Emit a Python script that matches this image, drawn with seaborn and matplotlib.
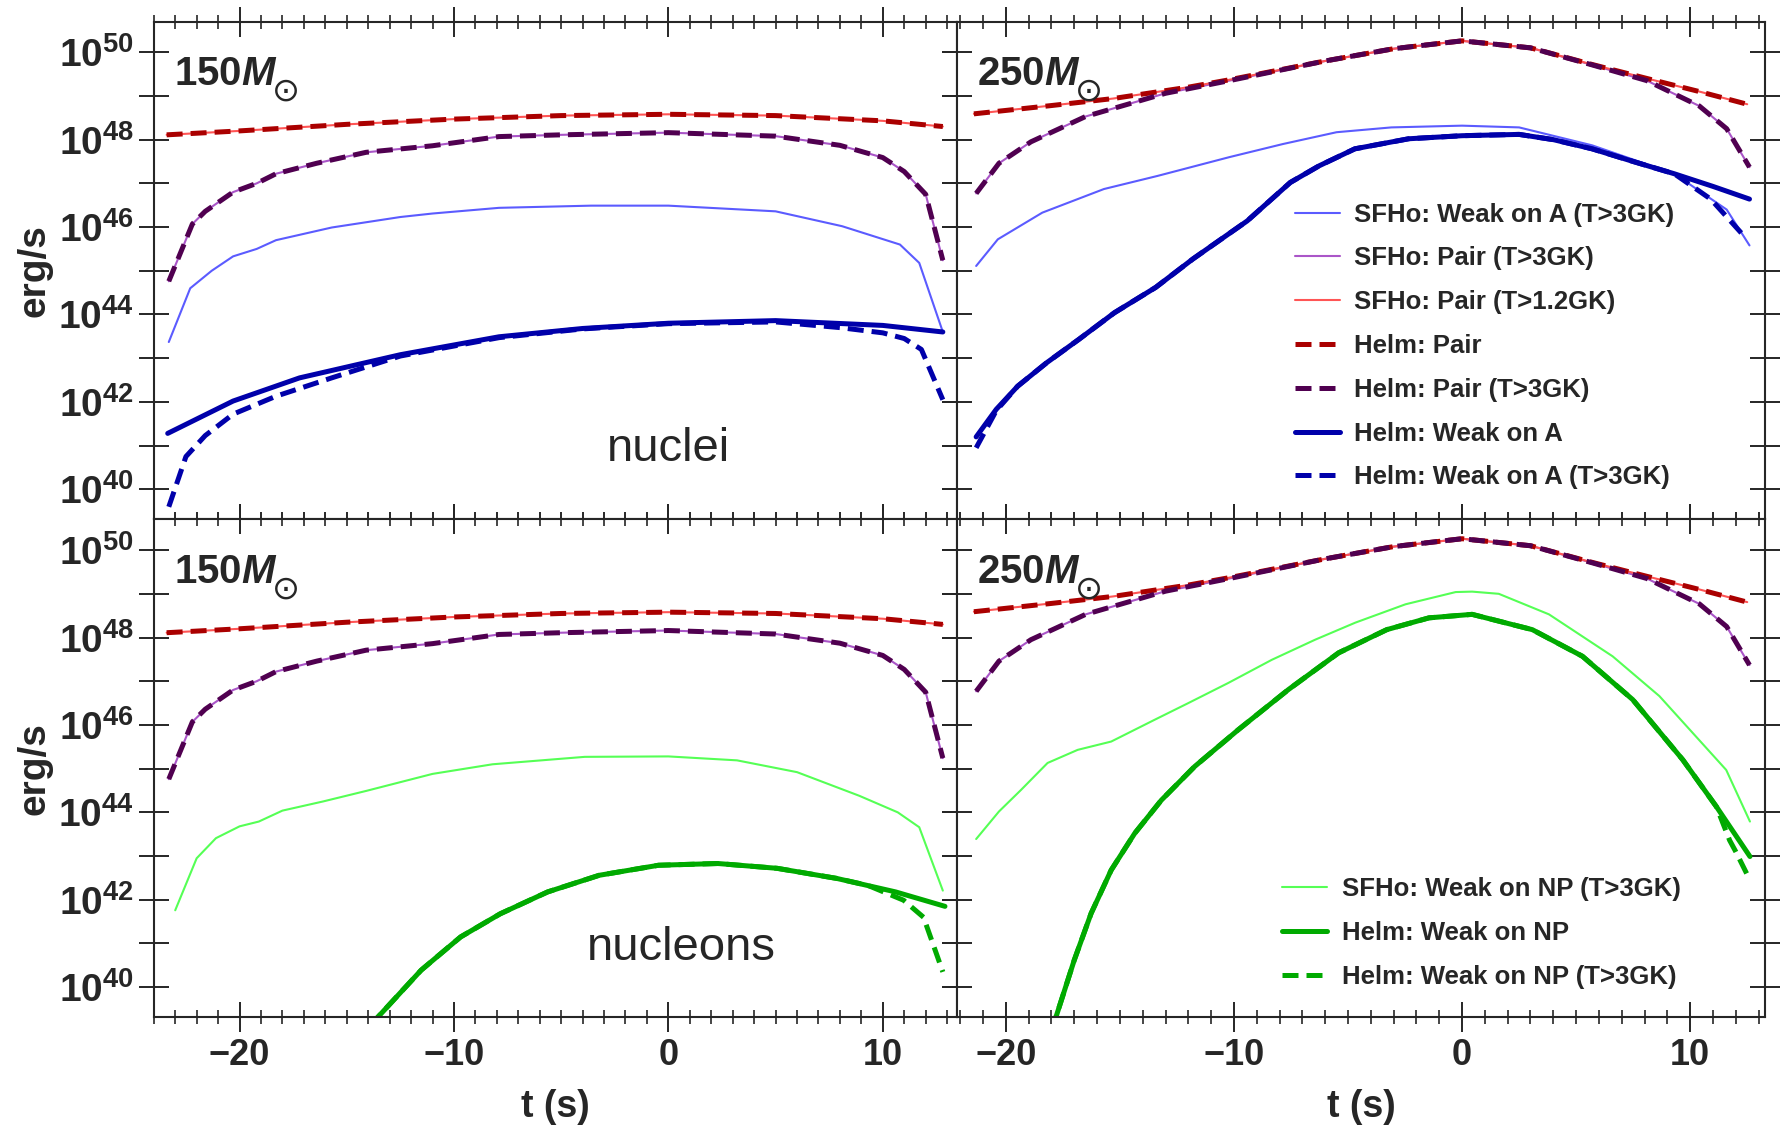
import numpy as np
import seaborn as sns
import matplotlib.pyplot as plt
from matplotlib.ticker import FixedLocator, FuncFormatter, MultipleLocator, NullLocator

# ---- data (log10 of luminosity in erg/s vs t in s) ----
# 150 Msun, pair emission (same in both rows)
t_pair150 = [-23.4, -20, -15, -10, -5, 0, 5, 10, 12.8]
pair150 = [48.11, 48.2, 48.35, 48.47, 48.55, 48.58, 48.55, 48.43, 48.3]
t_pair3_150 = [-23.3, -22.2, -21.6, -20.3, -19.2, -18.3, -16.4, -14.1, -11, -7.9, -5, 0, 5, 8, 10, 11, 12, 12.8]
pair3_150 = [44.76, 46.07, 46.36, 46.8, 47.0, 47.22, 47.46, 47.71, 47.86, 48.07, 48.11, 48.16, 48.08, 47.87, 47.59, 47.27, 46.75, 45.24]

# 150 Msun, nuclei
t_sfhoA150 = [-23.3, -22.3, -21.3, -20.3, -19.2, -18.3, -15.7, -12.5, -11, -7.9, -3.6, 0, 5, 8.1, 10.8, 11.7, 12.8]
sfhoA150 = [43.37, 44.6, 45.0, 45.33, 45.5, 45.7, 45.99, 46.23, 46.31, 46.44, 46.49, 46.49, 46.36, 46.02, 45.6, 45.18, 43.6]
t_helmA150 = [-23.35, -20.3, -17.2, -12.5, -7.9, -4, 0, 5, 10, 12.8]
helmA150 = [41.28, 42.02, 42.55, 43.08, 43.49, 43.68, 43.8, 43.86, 43.75, 43.6]
t_helmA3_150 = [-23.3, -22.5, -21.6, -20.3, -18.3, -15.7, -12.5, -7.9, -4, 0, 5, 8, 10, 11, 11.8, 12.8]
helmA3_150 = [39.6, 40.75, 41.23, 41.72, 42.13, 42.55, 43.05, 43.47, 43.67, 43.79, 43.83, 43.7, 43.58, 43.45, 43.2, 42.05]

# 250 Msun, pair emission
t_pair250 = [-21.4, -18, -15.3, -12, -10.2, -6, -3, 0, 3, 5.7, 8.1, 10.4, 12.5]
pair250 = [48.59, 48.78, 48.94, 49.2, 49.37, 49.8, 50.08, 50.26, 50.1, 49.72, 49.4, 49.1, 48.81]
t_pair3_250 = [-21.3, -20.3, -18.9, -16.5, -13, -10.2, -6, -3, 0, 3, 5.7, 8.1, 10.4, 11.6, 12.6]
pair3_250 = [46.77, 47.46, 47.95, 48.53, 49.06, 49.35, 49.8, 50.08, 50.26, 50.1, 49.71, 49.35, 48.77, 48.25, 47.37]

# 250 Msun, nuclei
t_sfhoA250 = [-21.3, -20.35, -18.4, -15.7, -13.35, -10.2, -7.85, -5.5, -3.1, 0, 2.5, 5.7, 9.3, 11.6, 12.6]
sfhoA250 = [45.11, 45.72, 46.33, 46.87, 47.17, 47.6, 47.9, 48.17, 48.28, 48.32, 48.28, 47.87, 47.22, 46.4, 45.58]
t_helmA250 = [-21.3, -20.42, -19.48, -18.2, -16.8, -15.24, -13.43, -11.8, -9.42, -7.53, -6.27, -4.7,
              -2.34, 0, 2.5, 4, 5.7, 7.5, 9.3, 11, 12.6]
helmA250 = [41.2, 41.83, 42.36, 42.9, 43.43, 44.04, 44.62, 45.27, 46.14, 47.02, 47.4, 47.79,
            48.02, 48.09, 48.12, 48.0, 47.79, 47.5, 47.22, 46.93, 46.64]
t_helmA3_250 = [-21.3, -20.42, -19.48, -18.2, -16.8, -15.24, -13.43, -11.8, -9.42, -7.53, -6.27, -4.7,
                -2.34, 0, 2.5, 4, 5.7, 7.5, 9.3, 10.9, 12.3]
helmA3_250 = [40.95, 41.8, 42.36, 42.9, 43.43, 44.04, 44.62, 45.27, 46.14, 47.02, 47.4, 47.79,
              48.02, 48.09, 48.12, 48.0, 47.79, 47.5, 47.22, 46.64, 45.83]

# 150 Msun, nucleons
t_sfhoN150 = [-23, -22, -21.1, -20, -19.1, -18, -16.1, -14.1, -11, -8.2, -3.9, 0, 3.2, 6, 8.9, 10.7, 11.7, 12.8]
sfhoN150 = [41.76, 42.95, 43.41, 43.68, 43.79, 44.04, 44.25, 44.49, 44.88, 45.1, 45.27, 45.28, 45.19, 44.92, 44.38, 44.0, 43.66, 42.21]
t_helmN150 = [-13.9, -13.56, -11.53, -9.69, -7.84, -5.63, -3.23, -0.46, 2.31, 5.07, 7.84, 10.6, 12.9]
helmN150 = [39.1, 39.31, 40.39, 41.15, 41.68, 42.18, 42.56, 42.79, 42.83, 42.72, 42.49, 42.18, 41.85]
t_helmN3_150 = [-13.9, -13.56, -11.53, -9.69, -7.84, -5.63, -3.23, -0.46, 2.31, 5.07, 7.84, 9.3, 10.97, 11.9, 12.8]
helmN3_150 = [39.1, 39.31, 40.39, 41.15, 41.68, 42.18, 42.56, 42.79, 42.83, 42.72, 42.49, 42.33, 41.99, 41.6, 40.35]

# 250 Msun, nucleons
t_sfhoN250 = [-21.3, -20.3, -19.34, -18.17, -16.85, -15.38, -13.47, -12.0, -10.25, -8.34, -6.44, -4.68,
              -2.48, -0.28, 0.44, 1.61, 3.81, 6.6, 8.65, 11.58, 12.62]
sfhoN250 = [43.39, 44.02, 44.51, 45.13, 45.43, 45.62, 46.12, 46.5, 46.96, 47.49, 47.95, 48.34,
            48.76, 49.04, 49.05, 49.0, 48.53, 47.57, 46.66, 44.97, 43.79]
t_helmN250 = [-18.0, -17.8, -17.0, -16.26, -15.38, -14.35, -13.18, -11.72, -9.81, -7.61, -5.41, -3.3,
              -1.45, 0.44, 3.08, 5.28, 7.48, 9.68, 11.15, 12.62]
helmN250 = [39.0, 39.32, 40.62, 41.69, 42.68, 43.52, 44.28, 45.05, 45.89, 46.81, 47.65, 48.18,
            48.45, 48.53, 48.18, 47.57, 46.58, 45.2, 44.13, 42.99]
t_helmN3_250 = [-18.0, -17.8, -17.0, -16.26, -15.38, -14.35, -13.18, -11.72, -9.81, -7.61, -5.41, -3.3,
                -1.45, 0.44, 3.08, 5.28, 7.48, 9.68, 11.15, 11.73, 12.0, 12.62]
helmN3_250 = [39.0, 39.32, 40.62, 41.69, 42.68, 43.52, 44.28, 45.05, 45.89, 46.81, 47.65, 48.18,
              48.45, 48.53, 48.18, 47.57, 46.58, 45.2, 44.13, 43.36, 43.1, 42.45]

# ---- styling ----
sns.set_style("ticks")
plt.rcParams['font.family'] = ['Liberation Sans', 'DejaVu Sans']
plt.rcParams['font.weight'] = 'bold'
plt.rcParams['mathtext.fontset'] = 'custom'
plt.rcParams['mathtext.rm'] = 'Liberation Sans:bold'
plt.rcParams['mathtext.it'] = 'Liberation Sans:bold:italic'
plt.rcParams['mathtext.bf'] = 'Liberation Sans:bold'
plt.rcParams['axes.linewidth'] = 1.5

c_sfhoA = '#5b5bff'
c_sfhoP3 = '#aa55c8'
c_sfhoP = '#ff5555'
c_helmP = '#aa0000'
c_helmP3 = '#500050'
c_helmA = '#0000aa'
c_sfhoN = '#55ff55'
c_helmN = '#00aa00'
dash = (0, (3.2, 1.6))
thin, thick = 1.5, 3.6

fig, axes = plt.subplots(2, 2, figsize=(17.86, 11.38), dpi=100,
                         gridspec_kw={'width_ratios': [705, 710]})
fig.subplots_adjust(left=0.0861, right=0.9885, top=0.981, bottom=0.106, wspace=0, hspace=0)


def line(ax, t, v, color, lw, ls='-', label=None):
    sns.lineplot(x=t, y=10 ** np.array(v), ax=ax, color=color, lw=lw, linestyle=ls,
                 label=label, estimator=None, sort=False, legend=False)


leg_kw = dict(frameon=False, handlelength=1.75, handletextpad=0.58, labelspacing=0.77,
              borderaxespad=0, prop={'weight': 'bold', 'size': 18.5})

# top-left: 150, nuclei
ax = axes[0, 0]
line(ax, t_sfhoA150, sfhoA150, c_sfhoA, thin)
line(ax, t_pair3_150, pair3_150, c_sfhoP3, thin)
line(ax, t_pair150, pair150, c_sfhoP, thin)
line(ax, t_pair150, pair150, c_helmP, thick, dash)
line(ax, t_pair3_150, pair3_150, c_helmP3, thick, dash)
line(ax, t_helmA3_150, helmA3_150, c_helmA, thick, dash)
line(ax, t_helmA150, helmA150, c_helmA, thick)

# top-right: 250, nuclei
ax = axes[0, 1]
line(ax, t_sfhoA250, sfhoA250, c_sfhoA, thin, label='SFHo: Weak on A (T>3GK)')
line(ax, t_pair3_250, pair3_250, c_sfhoP3, thin, label='SFHo: Pair (T>3GK)')
line(ax, t_pair250, pair250, c_sfhoP, thin, label='SFHo: Pair (T>1.2GK)')
line(ax, t_pair250, pair250, c_helmP, thick, dash, label='Helm: Pair')
line(ax, t_pair3_250, pair3_250, c_helmP3, thick, dash, label='Helm: Pair (T>3GK)')
line(ax, t_helmA250, helmA250, c_helmA, thick, label='Helm: Weak on A')
line(ax, t_helmA3_250, helmA3_250, c_helmA, thick, dash, label='Helm: Weak on A (T>3GK)')
ax.legend(loc='upper left', bbox_to_anchor=(0.405, 0.657), **leg_kw)

# bottom-left: 150, nucleons
ax = axes[1, 0]
line(ax, t_sfhoN150, sfhoN150, c_sfhoN, thin)
line(ax, t_pair3_150, pair3_150, c_sfhoP3, thin)
line(ax, t_pair150, pair150, c_sfhoP, thin)
line(ax, t_pair150, pair150, c_helmP, thick, dash)
line(ax, t_pair3_150, pair3_150, c_helmP3, thick, dash)
line(ax, t_helmN3_150, helmN3_150, c_helmN, thick, dash)
line(ax, t_helmN150, helmN150, c_helmN, thick)

# bottom-right: 250, nucleons
ax = axes[1, 1]
line(ax, t_pair3_250, pair3_250, c_sfhoP3, thin)
line(ax, t_pair250, pair250, c_sfhoP, thin)
line(ax, t_pair250, pair250, c_helmP, thick, dash)
line(ax, t_pair3_250, pair3_250, c_helmP3, thick, dash)
line(ax, t_sfhoN250, sfhoN250, c_sfhoN, thin, label='SFHo: Weak on NP (T>3GK)')
line(ax, t_helmN250, helmN250, c_helmN, thick, label='Helm: Weak on NP')
line(ax, t_helmN3_250, helmN3_250, c_helmN, thick, dash, label='Helm: Weak on NP (T>3GK)')
h, l = ax.get_legend_handles_labels()
ax.legend(h[-3:], l[-3:], loc='upper left', bbox_to_anchor=(0.39, 0.302), **leg_kw)

# ---- axes ----
ylo, yhi = 10 ** 39.31, 10 ** 50.7
decades = [10.0 ** k for k in range(39, 51)]


def ylab(v, pos):
    k = int(round(np.log10(v)))
    return r'$10^{%d}$' % k if k % 2 == 0 else ''


for i in range(2):
    for j in range(2):
        ax = axes[i, j]
        ax.set_yscale('log')
        ax.set_ylim(ylo, yhi)
        ax.set_xlim((-24, 13.45) if j == 0 else (-22.15, 13.3))
        ax.yaxis.set_major_locator(FixedLocator(decades))
        ax.yaxis.set_minor_locator(NullLocator())
        ax.yaxis.set_major_formatter(FuncFormatter(ylab))
        ax.xaxis.set_major_locator(MultipleLocator(10))
        ax.xaxis.set_minor_locator(MultipleLocator(1))
        ax.tick_params(which='major', direction='inout', length=21, width=1.4,
                       top=True, right=True, pad=4)
        ax.tick_params(axis='y', labelsize=28)
        ax.tick_params(axis='x', labelsize=26)
        ax.tick_params(which='minor', direction='inout', length=10, width=1.2,
                       top=True, right=True)
        for s in ax.spines.values():
            s.set_linewidth(1.5)
        if i == 0:
            ax.tick_params(labelbottom=False)
        else:
            ax.set_xlabel('t (s)', fontsize=27, fontweight='bold', labelpad=12)
        if j == 1:
            ax.tick_params(labelleft=False)
        else:
            ax.set_ylabel('erg/s', fontsize=28, fontweight='bold', labelpad=4)
        mass = '150' if j == 0 else '250'
        mt = ax.text(0.025, 0.895, r'$%sM$' % mass, transform=ax.transAxes,
                     fontsize=29, ha='left', va='center')
        ax.annotate('\u2299', xy=(1, 0), xycoords=mt, xytext=(-4, 1),
                    textcoords='offset points', fontsize=24, fontweight='normal',
                    family='DejaVu Sans', ha='left', va='center')

axes[0, 0].text(0.0, 10 ** 40.93, 'nuclei', fontsize=34, fontweight='normal',
                ha='center', va='center')
axes[1, 0].text(0.6, 10 ** 40.9, 'nucleons', fontsize=34, fontweight='normal',
                ha='center', va='center')

fig.savefig('out.png', dpi=100)
